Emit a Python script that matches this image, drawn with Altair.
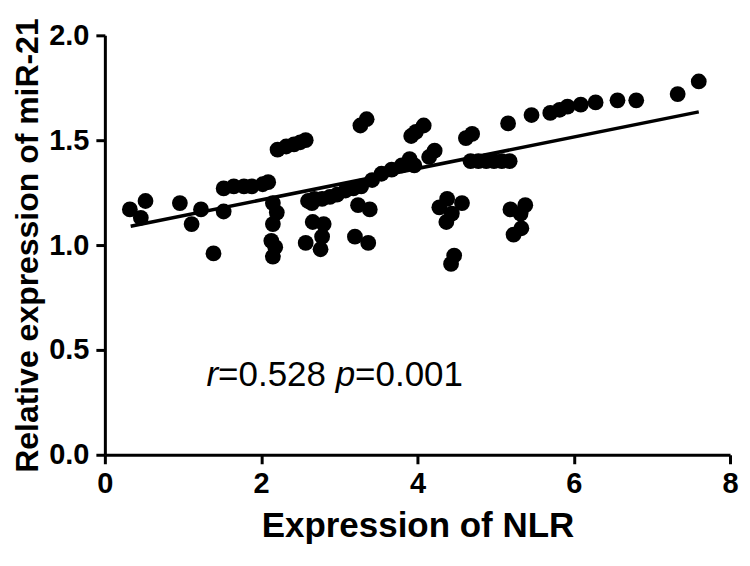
import altair as alt
import pandas as pd

nlr = [0.32, 0.46, 0.52, 0.96, 1.11, 1.23, 1.39, 1.52,
       1.52, 1.65, 1.78, 1.88, 2.02, 2.09,
       2.15, 2.20, 2.15, 2.13, 2.18, 2.15,
       2.21, 2.32, 2.42, 2.50, 2.57,
       2.60, 2.68, 2.78, 2.88, 2.97, 3.08, 3.18, 3.28, 2.65,
       2.66, 2.80, 2.78, 2.57, 2.76,
       3.24, 3.39, 3.20, 3.37,
       3.27, 3.35,
       3.42, 3.54, 3.67, 3.80, 3.90, 3.96,
       3.92, 3.98, 4.08, 4.15, 4.22,
       4.62, 4.70, 4.68, 4.78, 4.88, 4.98, 5.08, 5.18,
       5.16, 5.46, 5.70, 5.82, 5.92, 6.09, 6.28, 6.56, 6.80, 7.33, 7.60,
       4.28, 4.38, 4.57, 4.37, 4.44, 4.47, 4.43,
       5.19, 5.38, 5.32, 5.23, 5.33]
mir21 = [1.17, 1.13, 1.21, 1.20, 1.10, 1.17, 0.96, 1.16,
         1.27, 1.28, 1.28, 1.28, 1.29, 1.30,
         1.20, 1.155, 1.10, 1.02, 0.99, 0.945,
         1.455, 1.47, 1.48, 1.49, 1.50,
         1.21, 1.22, 1.22, 1.23, 1.24, 1.26, 1.27, 1.28, 1.20,
         1.11, 1.10, 1.04, 1.01, 0.98,
         1.19, 1.17, 1.04, 1.01,
         1.57, 1.60,
         1.31, 1.34, 1.36, 1.38, 1.41, 1.38,
         1.52, 1.54, 1.57, 1.42, 1.45,
         1.51, 1.53, 1.40, 1.40, 1.40, 1.40, 1.40, 1.40,
         1.58, 1.62, 1.63, 1.645, 1.66, 1.67, 1.68, 1.69, 1.69, 1.72, 1.78,
         1.18, 1.22, 1.20, 1.11, 1.15, 0.95, 0.91,
         1.17, 1.19, 1.15, 1.05, 1.08]

fit_x = [0.33, 7.60]
fit_y = [1.09, 1.635]

ann_x = [1.30, 1.30, 1.30, 1.30]
ann_y = [0.38, 0.38, 0.38, 0.38]
ann_text = ["r", "=0.528", "p", "=0.001"]
ann_italic = [True, False, True, False]

FONT = "Liberation Sans"

pts = pd.DataFrame({"x": nlr, "y": mir21})
fit = pd.DataFrame({"x": fit_x, "y": fit_y})

xs = alt.Scale(domain=[0, 8], nice=False, zero=True)
ys = alt.Scale(domain=[0, 2.0], nice=False)

xaxis = alt.Axis(title="Expression of NLR", values=[0, 2, 4, 6, 8], format="d",
                 grid=False, domainColor="black", domainWidth=3, tickColor="black",
                 tickWidth=3, tickSize=9, labelFont=FONT, labelFontSize=29,
                 labelFontWeight="bold", labelColor="black", labelPadding=6,
                 titleFont=FONT, titleFontSize=35, titleFontWeight="bold",
                 titleColor="black", titlePadding=10, labelFlush=False)
yaxis = alt.Axis(title="Relative expression of miR-21", values=[0, 0.5, 1.0, 1.5, 2.0],
                 format=".1f", grid=False, domainColor="black", domainWidth=3,
                 tickColor="black", tickWidth=3, tickSize=9, labelFont=FONT,
                 labelFontSize=29, labelFontWeight="bold", labelColor="black",
                 labelPadding=7, titleFont=FONT, titleFontSize=32,
                 titleFontWeight="bold", titleColor="black", titlePadding=4,
                 labelFlush=False)

points = alt.Chart(pts).mark_circle(size=250, color="black", opacity=1).encode(
    x=alt.X("x:Q", scale=xs, axis=xaxis),
    y=alt.Y("y:Q", scale=ys, axis=yaxis),
)

line = alt.Chart(fit).mark_line(color="black", strokeWidth=3.5).encode(
    x=alt.X("x:Q", scale=xs), y=alt.Y("y:Q", scale=ys)
)

fs = 35
w_r = 0.333 * fs
w_eq1 = (0.584 + 0.556 + 0.278 + 0.556 * 3 + 0.278) * fs
w_p = 0.556 * fs
offsets = [0, w_r, w_r + w_eq1, w_r + w_eq1 + w_p]

texts = []
for i in range(4):
    d = pd.DataFrame({"x": [ann_x[i]], "y": [ann_y[i]], "t": [ann_text[i]]})
    texts.append(alt.Chart(d).mark_text(
        font=FONT, fontSize=fs, fontStyle="italic" if ann_italic[i] else "normal",
        align="left", baseline="middle", color="black", dx=offsets[i]
    ).encode(x=alt.X("x:Q", scale=xs), y=alt.Y("y:Q", scale=ys), text="t:N"))

chart = alt.layer(points, line, *texts).properties(
    width=626, height=420,
    padding={"left": 97, "top": 27, "right": 12, "bottom": 103},
    autosize="none",
).configure_view(stroke=None)

chart.save("out.html", embed_options={"renderer": "svg", "actions": False})
